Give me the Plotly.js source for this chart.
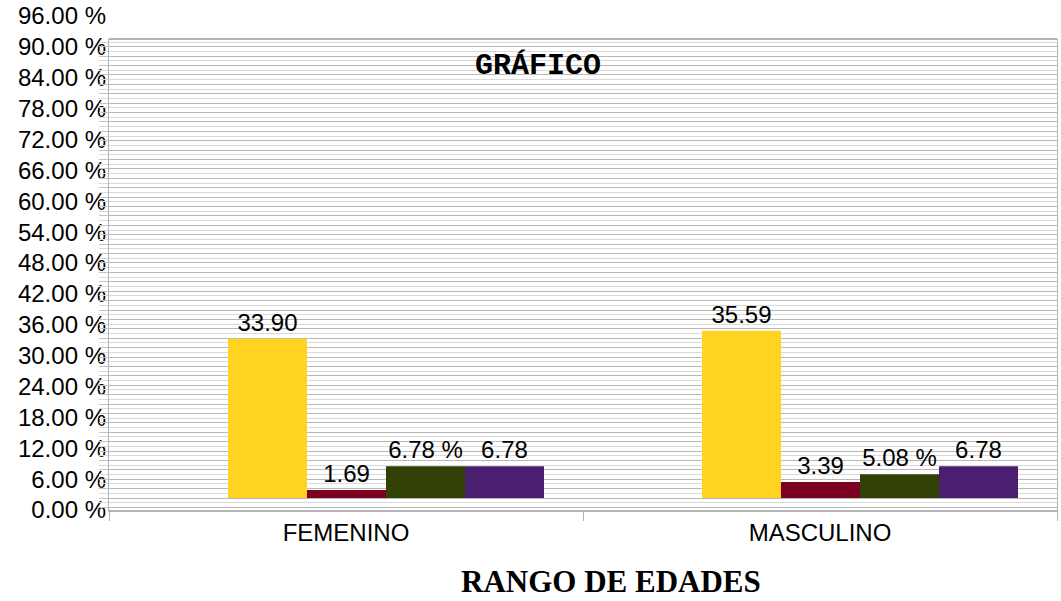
<!DOCTYPE html>
<html>
<head>
<meta charset="utf-8">
<script src="https://cdn.plot.ly/plotly-3.0.1.min.js"></script>
<style>html,body{margin:0;padding:0;background:#fff;}#chart{width:1061px;height:601px;}</style>
</head>
<body>
<div id="chart"></div>
<script>
// Data
var categories = ["FEMENINO", "MASCULINO"];
var serieA = [33.90, 35.59];   // yellow
var serieB = [1.69, 3.39];     // dark red
var serieC = [6.78, 5.08];     // dark green
var serieD = [6.78, 6.78];     // purple
var axisTicks = [0, 6, 12, 18, 24, 30, 36, 42, 48, 54, 60, 66, 72, 78, 84, 90, 96];
var axisTickText = axisTicks.map(function (v) { return v.toFixed(2) + " %"; });

var colors = ["#ffd320", "#7e0021", "#314004", "#4b1f6f"];
var offsets = [-0.249, -0.0823, 0.0844, 0.251];
var templates = ["%{y:.2f}", "%{y:.2f}", "%{y:.2f} %", "%{y:.2f}"];
var series = [serieA, serieB, serieC, serieD];

var txtFont = {family: "Liberation Sans, Arial, sans-serif", size: 24, color: "#000"};

var traces = series.map(function (vals, i) {
  return {
    type: "bar",
    x: categories,
    y: vals,
    yaxis: "y2",
    width: 0.1667,
    offset: offsets[i],
    marker: {color: colors[i], line: {width: 0}},
    texttemplate: templates[i],
    textposition: "outside",
    textfont: txtFont,
    constraintext: "none",
    cliponaxis: false,
    hoverinfo: "skip",
    showlegend: false
  };
});

// invisible helper trace so the percentage label axis is drawn
traces.push({
  type: "scatter",
  mode: "markers",
  x: [categories[0]],
  y: [axisTicks[0]],
  yaxis: "y",
  marker: {opacity: 0, size: 1},
  hoverinfo: "skip",
  showlegend: false
});

var layout = {
  width: 1061,
  height: 601,
  margin: {l: 109, r: 4, t: 16, b: 91},
  paper_bgcolor: "#ffffff",
  plot_bgcolor: "rgba(0,0,0,0)",
  barmode: "overlay",
  showlegend: false,
  title: {
    text: "<b>GRÁFICO</b>",
    font: {family: "Liberation Mono, Courier New, monospace", size: 30, color: "#000"},
    x: 0.4525, xref: "paper", xanchor: "center",
    y: 0.895, yref: "container", yanchor: "middle"
  },
  xaxis: {
    type: "category",
    anchor: "y2",
    range: [-0.5, 1.5],
    showline: true,
    linecolor: "#b3b3b3",
    linewidth: 2,
    mirror: false,
    ticks: "outside",
    tickson: "boundaries",
    ticklen: 9,
    tickcolor: "#b3b3b3",
    tickwidth: 1,
    showgrid: false,
    tickfont: txtFont,
    fixedrange: true
  },
  yaxis: {
    domain: [0, 1],
    range: [0, 96],
    anchor: "x",
    tickmode: "array",
    tickvals: axisTicks,
    ticktext: axisTickText,
    ticks: "",
    showgrid: false,
    zeroline: false,
    showline: false,
    tickfont: txtFont,
    ticklabelstandoff: 2,
    fixedrange: true
  },
  yaxis2: {
    domain: [0, 0.9534],
    anchor: "x",
    range: [-2.55, 97.65],
    tick0: 0,
    dtick: 2,
    showticklabels: false,
    ticks: "outside",
    ticklen: 9,
    tickcolor: "#c4c4c4",
    showgrid: true,
    gridcolor: "#b8b8b8",
    gridwidth: 1,
    minor: {dtick: 1, showgrid: true, gridcolor: "#dadada", ticks: "outside", ticklen: 9, tickcolor: "#dadada"},
    zeroline: false,
    showline: true,
    linecolor: "#b3b3b3",
    linewidth: 1,
    mirror: true,
    fixedrange: true
  },
  shapes: [{
    type: "line", xref: "paper", yref: "y2 domain",
    x0: 0, x1: 1, y0: 1, y1: 1,
    line: {color: "#b3b3b3", width: 2}
  }],
  annotations: [{
    text: "<b>RANGO DE EDADES</b>",
    xref: "paper", yref: "paper",
    x: 0.5295, y: -0.144,
    xanchor: "center", yanchor: "middle",
    showarrow: false,
    font: {family: "Liberation Serif, Times New Roman, serif", size: 31, color: "#000"}
  }]
};

Plotly.newPlot("chart", traces, layout, {displayModeBar: false, staticPlot: true});
</script>
</body>
</html>
